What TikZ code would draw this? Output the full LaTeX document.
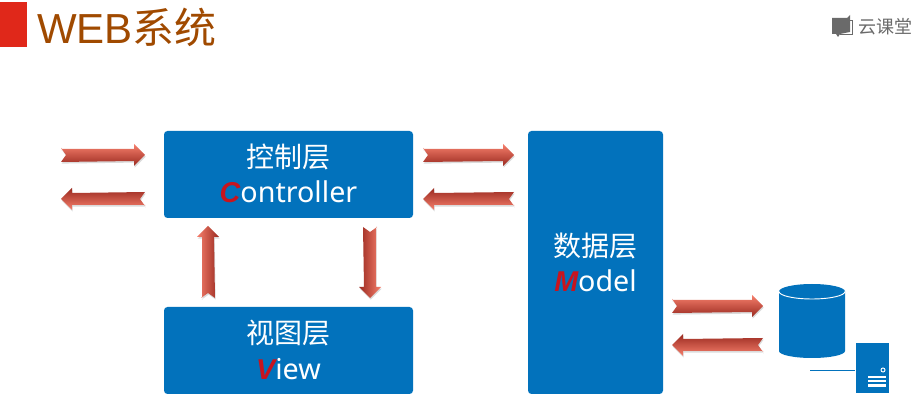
\documentclass[tikz,border=0pt]{standalone}
\usepackage{fontspec}
\setmainfont{Noto Sans}
\newfontfamily\cjk{Noto Sans CJK SC}
\newfontfamily\titlefont{Liberation Sans}
\newfontfamily\capfont{Liberation Sans}
\definecolor{boxblue}{HTML}{0272BC}
\definecolor{titlered}{HTML}{E0281A}
\definecolor{titlebrown}{HTML}{A04A00}
\definecolor{logogray}{HTML}{6A6A6A}
\definecolor{capred}{HTML}{C8141E}
\tikzset{
  layerbox/.style={fill=boxblue,rounded corners=3.5*0.75pt,inner sep=0pt},
  layertext/.style={text=white,font=\fontsize{21}{24}\selectfont,inner sep=0pt,anchor=center},
  latintext/.style={layertext,font=\fontsize{21.5}{24}\selectfont},
}
\newcommand\capl[1]{{\color{capred}\capfont\bfseries\itshape #1}}
\newcommand\fatpath[1]{(0,6) -- (#1-11,6) -- (#1-11,11) -- (#1,0) -- (#1-11,-11) -- (#1-11,-6) -- (0,-7) -- (5,0) -- (0,7) -- cycle}
\newcommand\fatarrow[3]{%
  \pgfmathanglebetweenpoints{\pgfpointanchor{#1}{center}}{\pgfpointanchor{#2}{center}}%
  \let\arrang\pgfmathresult
  \begin{scope}[shift={(#1)},yshift=-1.2pt,xshift=0.5pt,rotate=\arrang,x=0.75pt,y=0.75pt]
    \fill[black,opacity=.14] \fatpath{#3};
  \end{scope}
  \begin{scope}[shift={(#1)},rotate=\arrang,x=0.75pt,y=0.75pt]
    \shade[top color=F1,middle color=F2,bottom color=F3,shading angle=\arrang] \fatpath{#3};
  \end{scope}
}
\definecolor{F1}{HTML}{F67F6C}
\definecolor{F2}{HTML}{E4584A}
\definecolor{F3}{HTML}{9A2A20}
\begin{document}
\begin{tikzpicture}[x=0.75pt,y=-0.75pt]
\useasboundingbox (0,0) rectangle (914,409);
\fill[white] (0,0) rectangle (914,409);
% title
\fill[titlered] (0,2) rectangle (27,47);
\node[anchor=west,inner sep=0pt,text=titlebrown,font=\fontsize{31.5}{36}\selectfont] (title) at (37,27) {\titlefont WEB\cjk 系统};
% logo
\fill[logogray] (832,18) -- (847,18) -- (850,15) -- (850,32) -- (840,34) -- (838,37) -- (836,34) -- (832,34) -- cycle;
\draw[logogray,line width=.5pt] (850,20) -- (852,20) -- (852,34) -- (840,34);
\node[anchor=west,inner sep=0pt,text=logogray,font=\fontsize{13.5}{16}\selectfont] (logo) at (858,27) {\cjk 云课堂};
% boxes
\path[layerbox] (164,131) rectangle (413,218);
\path[layerbox] (164,307) rectangle (413,394);
\path[layerbox] (528,131) rectangle (663,394);
\node[layertext] (c1) at (288.5,157) {\cjk 控制层};
\node[latintext] (c2) at (288.5,192) {\capl{C}ontroller};
\node[layertext] (v1) at (288.5,333) {\cjk 视图层};
\node[latintext] (v2) at (288.5,369) {\capl{V}iew};
\node[layertext] (m1) at (595.5,246) {\cjk 数据层};
\node[latintext] (m2) at (595.5,281) {\capl{M}odel};
% arrows
\coordinate (a1s) at (61,155);  \coordinate (a1e) at (145,155);
\coordinate (a2s) at (145,199); \coordinate (a2e) at (61,199);
\coordinate (a3s) at (423,155); \coordinate (a3e) at (514,155);
\coordinate (a4s) at (514,199); \coordinate (a4e) at (423,199);
\coordinate (a5s) at (208,298); \coordinate (a5e) at (208,226);
\coordinate (a6s) at (370,227); \coordinate (a6e) at (370,298);
\coordinate (a7s) at (672,306); \coordinate (a7e) at (763,306);
\coordinate (a8s) at (763,345); \coordinate (a8e) at (672,345);
\fatarrow{a1s}{a1e}{84}
\fatarrow{a2s}{a2e}{84}
\fatarrow{a3s}{a3e}{91}
\fatarrow{a4s}{a4e}{91}
\fatarrow{a5s}{a5e}{72}
\fatarrow{a6s}{a6e}{71}
\fatarrow{a7s}{a7e}{91}
\fatarrow{a8s}{a8e}{91}
% database
\fill[boxblue] (779,291.5) arc[x radius=33,y radius=7.5,start angle=180,end angle=360] -- (845,351) arc[x radius=33,y radius=7,start angle=0,end angle=180] -- cycle;
\draw[white,line width=.7pt] (779,291.5) arc[x radius=33,y radius=7.5,start angle=180,end angle=0];
% server
\fill[boxblue] (856,343) rectangle (889,393);
\draw[boxblue,line width=.6pt] (810,370) -- (855,370);
\draw[white,line width=.7pt] (883,370) circle[radius=2];
\fill[white] (868,376) rectangle (886,378);
\fill[white] (868,380) rectangle (886,382.3);
\fill[white] (868,384.5) rectangle (886,387);
\end{tikzpicture}
\end{document}
